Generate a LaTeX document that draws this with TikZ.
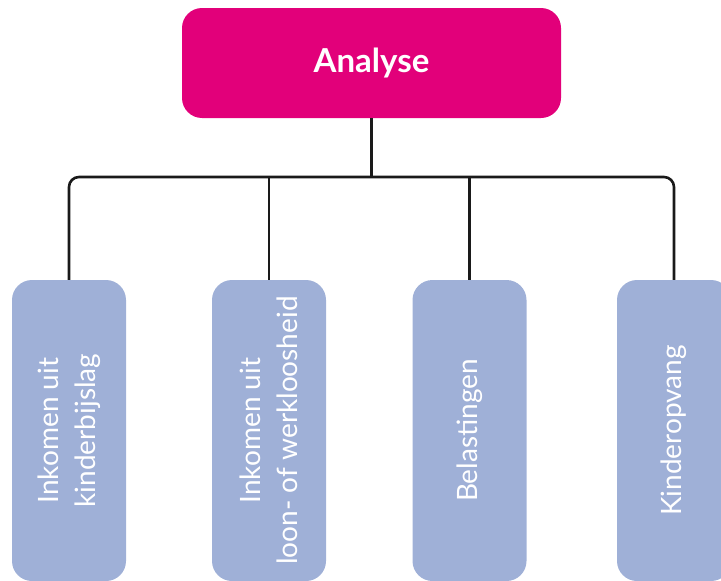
\documentclass[tikz,border=0pt]{standalone}
\usepackage{fontspec}
\setmainfont{Lato}
\definecolor{analysekleur}{HTML}{E2007A}
\definecolor{deelkleur}{HTML}{9FB0D7}
\definecolor{lijnkleur}{HTML}{1A1A1A}
\tikzset{
  hoofdbox/.style={fill=analysekleur, rounded corners=20pt, minimum width=379pt,
    minimum height=110pt, inner sep=0pt, text=white,
    font=\bfseries\fontsize{33}{40}\selectfont},
  deelbox/.style={fill=deelkleur, rounded corners=20pt, rotate=90, minimum width=301pt,
    minimum height=114pt, inner sep=0pt, text=white, align=center,
    font=\fontsize{28}{37}\selectfont},
  verbinding/.style={draw=lijnkleur, line width=2.6pt}
}
\begin{document}
\begin{tikzpicture}[x=1pt, y=-1pt]
  \useasboundingbox (0,0) rectangle (721,581);

  % Hoofdvak
  \node[hoofdbox] (analyse) at (371.5,63) {Analyse};

  % Deelvakken
  \node[deelbox] (kinderbijslag) at (69,430.5) {Inkomen uit\\kinderbijslag};
  \node[deelbox] (loon) at (269,430.5) {Inkomen uit\\loon- of werkloosheid};
  \node[deelbox] (belastingen) at (469.5,430.5) {Belastingen};
  \node[deelbox] (opvang) at (674,430.5) {Kinderopvang};

  % Verbindingen
  \coordinate (tak) at (0,177);
  \draw[verbinding] (analyse.south) -- (analyse.south |- tak);
  \draw[verbinding, rounded corners=10pt] (kinderbijslag.east) |- (opvang.east |- tak) -- (opvang.east);
  \draw[verbinding] (loon.east) -- (loon.east |- tak);
  \draw[verbinding] (belastingen.east) -- (belastingen.east |- tak);
\end{tikzpicture}
\end{document}
